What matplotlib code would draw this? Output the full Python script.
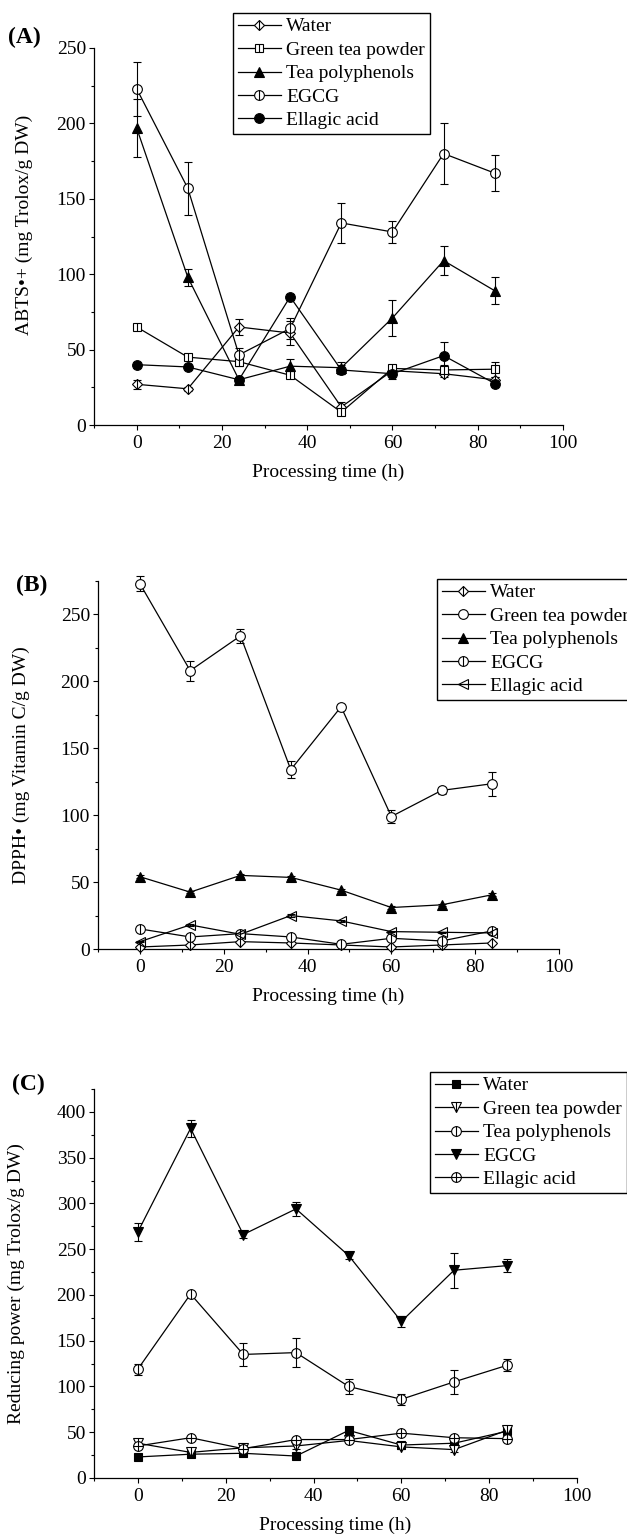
import matplotlib
matplotlib.use("Agg")
import matplotlib.pyplot as plt
from matplotlib.ticker import MultipleLocator
from matplotlib.legend_handler import HandlerTuple

plt.rcParams['font.family'] = ['Liberation Serif', 'DejaVu Serif']
plt.rcParams['font.size'] = 14

hours = [0, 12, 24, 36, 48, 60, 72, 84]

# (A) ABTS
abts_water = [27, 24, 65, 61, 12, 36, 34, 30]
abts_water_err = [3, 1.5, 5.5, 8, 3, 2, 2, 2]
abts_gtp = [65, 45, 42, 33, 8.5, 37.5, 36.5, 37]
abts_gtp_err = [1.5, 2, 3, 2, 2, 2, 3, 5]
abts_tp = [197, 98, 30, 39, 38, 71, 109, 89]
abts_tp_err = [19, 5.5, 2, 4.5, 4, 12, 9.5, 9]
abts_egcg = [223, 157, 46.5, 64, 134, 128, 180, 167]
abts_egcg_err = [18, 17.5, 4.5, 7, 13.5, 7.5, 20, 12]
abts_ea = [40, 38.5, 30, 85, 36.5, 34, 46, 27.5]
abts_ea_err = [2, 1.5, 1.5, 2, 3, 3.5, 9, 1.5]

# (B) DPPH
dpph_water = [1.5, 3, 5.5, 4.5, 3, 1.5, 3, 4.5]
dpph_water_err = [0.5, 0.5, 0.5, 0.5, 0.5, 0.5, 0.5, 0.5]
dpph_gtp = [273, 208, 234, 134, 181, 99, 118.5, 123.5]
dpph_gtp_err = [5.5, 7.5, 5.5, 6.5, 2, 4.5, 2.5, 9]
dpph_tp = [54, 42.5, 55, 53.5, 44, 31, 33, 40.5]
dpph_tp_err = [1, 1, 1, 1, 1, 1, 1, 1]
dpph_egcg = [15, 9, 11.5, 9, 3.5, 8, 6, 13.5]
dpph_egcg_err = [1, 1, 1, 1, 1, 1, 1, 1]
dpph_ea = [5.5, 18, 11, 25, 21, 13, 12.5, 12]
dpph_ea_err = [0.5, 1, 0.5, 1, 1, 0.5, 0.5, 0.5]

# (C) reducing power
frap_water = [23, 26, 27, 24, 52, 36, 38, 51]
frap_water_err = [2, 2, 2, 2, 2, 2, 2, 2]
frap_gtp = [38, 28, 33, 35, 41, 34, 31, 52]
frap_gtp_err = [3, 2, 2, 3, 2, 2, 3, 3]
frap_tp = [119, 201, 135, 137, 100, 86, 105, 123]
frap_tp_err = [6, 2, 13, 16, 8, 6, 13, 6.5]
frap_egcg = [269, 382, 266, 294, 243, 171, 227, 232]
frap_egcg_err = [10, 9, 4, 8, 4, 6, 19, 7]
frap_ea = [35, 44, 32, 42, 42, 49, 44, 43]
frap_ea_err = [2, 2, 2, 2, 2, 2, 2, 2]

labels_ = ["Water", "Green tea powder", "Tea polyphenols", "EGCG", "Ellagic acid"]

W, H = 627, 1539
fig = plt.figure(figsize=(W / 100, H / 100), dpi=100)


def add_axes_px(left, top, right, bottom):
	return fig.add_axes([left / W, 1 - bottom / H, (right - left) / W, (bottom - top) / H])


def draw(ax, y, err, marker, ms, face, center=None, cms=None):
	ax.errorbar(hours, y, yerr=err, fmt='none', ecolor='k', elinewidth=0.8,
				capsize=3, capthick=0.8, zorder=2, clip_on=False)
	line, = ax.plot(hours, y, color='k', lw=0.9, marker=marker, ms=ms,
					mfc=face, mec='k', mew=0.8, zorder=3, clip_on=False)
	if center is None:
		return line
	c, = ax.plot(hours, y, ls='none', marker=center, ms=cms, mec='k', mew=0.8,
				 zorder=3, clip_on=False)
	return (line, c)


def style(ax, ymax, ystep, ylabel, ylc):
	ax.set_xlim(-10, 100)
	ax.set_ylim(0, ymax)
	ax.spines['top'].set_visible(False)
	ax.spines['right'].set_visible(False)
	for s in ('left', 'bottom'):
		ax.spines[s].set_linewidth(0.9)
	ax.xaxis.set_major_locator(MultipleLocator(20))
	ax.xaxis.set_minor_locator(MultipleLocator(10))
	ax.yaxis.set_major_locator(MultipleLocator(ystep))
	ax.yaxis.set_minor_locator(MultipleLocator(ystep / 2))
	ax.tick_params(which='major', direction='out', length=3.8, width=0.8, labelsize=14)
	ax.tick_params(which='minor', direction='out', length=2.2, width=0.8)
	ax.tick_params(axis='x', pad=3.5)
	ax.tick_params(axis='y', pad=2)
	ax.set_xlabel("Processing time (h)", fontsize=14, labelpad=8)
	ax.set_ylabel(ylabel, fontsize=14)
	ax.yaxis.set_label_coords(*ylc)


def legend(handles, x, y):
	fig.legend(handles, labels_, loc='upper left', bbox_to_anchor=(x / W, 1 - y / H),
			   bbox_transform=fig.transFigure, borderaxespad=0, fontsize=14,
			   handlelength=2.2, handletextpad=0.3, labelspacing=0.3, borderpad=0.25,
			   fancybox=False, framealpha=1, edgecolor='k', numpoints=1,
			   handler_map={tuple: HandlerTuple(ndivide=1, pad=0)})


# ---- (A)
axA = add_axes_px(94, 48, 563, 425)
hA = [
	draw(axA, abts_water, abts_water_err, 'D', 5.6, 'white', '|', 7.9),
	draw(axA, abts_gtp, abts_gtp_err, 's', 5.8, 'white', '|', 5.8),
	draw(axA, abts_tp, abts_tp_err, '^', 7.8, 'k'),
	draw(axA, abts_egcg, abts_egcg_err, 'o', 7, 'white', '|', 7),
	draw(axA, abts_ea, abts_ea_err, 'o', 7, 'k'),
]
style(axA, 250, 50, "ABTS\u2022+ (mg Trolox/g DW)", (-0.13, 0.53))
legend(hA, 233, 13)
fig.text(8 / W, 1 - 37 / H, "(A)", fontsize=17, fontweight='bold', va='center', ha='left')

# ---- (B)
axB = add_axes_px(98, 581, 559, 949)
hB = [
	draw(axB, dpph_water, dpph_water_err, 'D', 5.6, 'white', '|', 7.9),
	draw(axB, dpph_gtp, dpph_gtp_err, 'o', 7, 'white'),
	draw(axB, dpph_tp, dpph_tp_err, '^', 7.8, 'k'),
	draw(axB, dpph_egcg, dpph_egcg_err, 'o', 7, 'white', '|', 7),
	draw(axB, dpph_ea, dpph_ea_err, '<', 7.5, 'none'),
]
style(axB, 275, 50, "DPPH\u2022 (mg Vitamin C/g DW)", (-0.147, 0.5))
legend(hB, 437, 579)
fig.text(16 / W, 1 - 585 / H, "(B)", fontsize=17, fontweight='bold', va='center', ha='left')

# ---- (C)
axC = add_axes_px(94, 1089, 577, 1478)
hC = [
	draw(axC, frap_water, frap_water_err, 's', 6.2, 'k'),
	draw(axC, frap_gtp, frap_gtp_err, 'v', 7.8, 'white', '|', 7.8),
	draw(axC, frap_tp, frap_tp_err, 'o', 7, 'white', '|', 7),
	draw(axC, frap_egcg, frap_egcg_err, 'v', 7.8, 'k'),
	draw(axC, frap_ea, frap_ea_err, 'o', 7, 'white', '+', 7),
]
style(axC, 425, 50, "Reducing power (mg Trolox/g DW)", (-0.143, 0.5))
legend(hC, 430, 1072)
fig.text(12 / W, 1 - 1084 / H, "(C)", fontsize=17, fontweight='bold', va='center', ha='left')

fig.savefig("out.png", dpi=100)
